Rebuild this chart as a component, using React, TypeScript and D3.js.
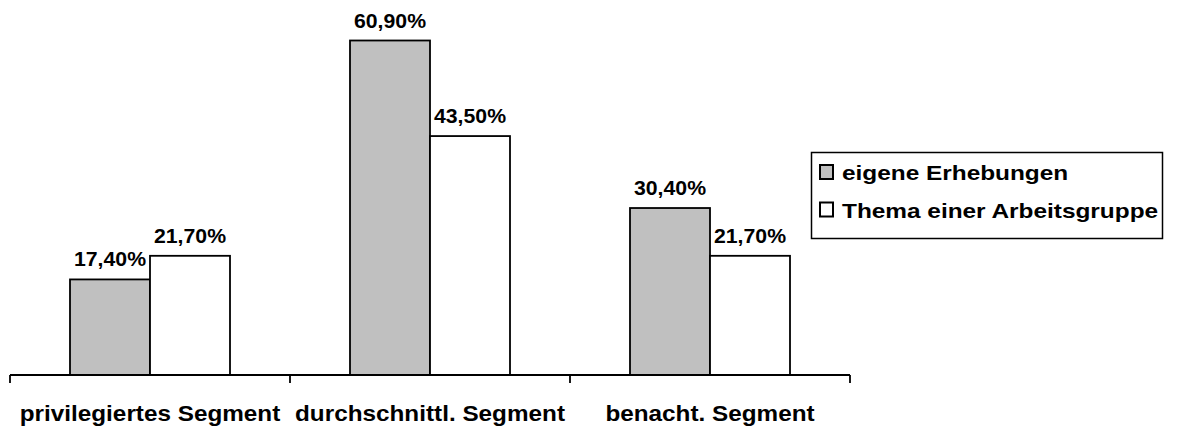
import React from "react";
import * as d3 from "d3";

const categories = ["privilegiertes Segment", "durchschnittl. Segment", "benacht. Segment"];
const seriesNames = ["eigene Erhebungen", "Thema einer Arbeitsgruppe"];
const eigene = [17.4, 60.9, 30.4];
const thema = [21.7, 43.5, 21.7];
const seriesValues = [eigene, thema];
const seriesColors = ["#c0c0c0", "#ffffff"];

const W = 1180;
const H = 428;
const FONT = "'Liberation Sans', Arial, sans-serif";

function Label(props: {
  x: number;
  y: number;
  size: number;
  stretch: number;
  anchor?: "start" | "middle" | "end";
  children: React.ReactNode;
}) {
  const { x, y, size, stretch, anchor = "start", children } = props;
  return (
    <text
      transform={`translate(${x},${y}) scale(${stretch},1)`}
      textAnchor={anchor}
      fontFamily={FONT}
      fontWeight="bold"
      fontSize={size}
      fill="#000"
    >
      {children}
    </text>
  );
}

export default function App() {
  const x0 = d3.scaleBand<string>().domain(categories).range([10, 850]).paddingInner(0).paddingOuter(0);
  const x1 = d3.scaleBand<string>().domain(seriesNames).range([0, x0.bandwidth()]).paddingInner(0).paddingOuter(0.75);
  const y = d3.scaleLinear().domain([0, 60.9]).range([375, 40.5]);
  const fmt = (v: number) => v.toFixed(2).replace(".", ",") + "%";
  const ticks = [...categories.map((c) => x0(c)!), 850];

  return (
    <svg width={W} height={H} style={{ position: "absolute", left: 0, top: 0, background: "#fff" }}>
      {categories.map((c, ci) =>
        seriesNames.map((s, si) => {
          const v = seriesValues[si][ci];
          const bx = x0(c)! + x1(s)!;
          return (
            <g key={c + s}>
              <rect
                x={bx}
                y={y(v)}
                width={x1.bandwidth()}
                height={y(0) - y(v)}
                fill={seriesColors[si]}
                stroke="#000"
                strokeWidth={1.8}
              />
              <Label x={bx + x1.bandwidth() / 2} y={y(v) - 13} size={19.5} stretch={1.09} anchor="middle">
                {fmt(v)}
              </Label>
            </g>
          );
        })
      )}
      <line x1={10} x2={850} y1={y(0)} y2={y(0)} stroke="#000" strokeWidth={1.8} />
      {ticks.map((t, i) => (
        <line key={i} x1={t} x2={t} y1={y(0)} y2={y(0) + 8} stroke="#000" strokeWidth={1.8} />
      ))}
      {categories.map((c) => (
        <Label key={c} x={x0(c)! + x0.bandwidth() / 2} y={421} size={21.5} stretch={1.13} anchor="middle">
          {c}
        </Label>
      ))}
      <rect x={811.5} y={152.5} width={351} height={86} fill="#fff" stroke="#000" strokeWidth={1.5} />
      {seriesNames.map((s, i) => (
        <g key={s}>
          <rect
            x={820}
            y={165 + i * 37.5}
            width={13}
            height={14}
            fill={seriesColors[i]}
            stroke="#000"
            strokeWidth={2}
          />
          <Label x={842} y={180 + i * 37.5} size={20.5} stretch={1.19}>
            {s}
          </Label>
        </g>
      ))}
    </svg>
  );
}
